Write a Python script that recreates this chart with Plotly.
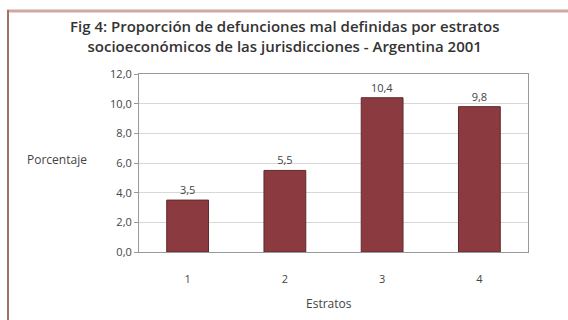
import plotly.graph_objects as go

categories = ["1", "2", "3", "4"]
values = [3.5, 5.5, 10.4, 9.8]
y_ticks = [0, 2, 4, 6, 8, 10, 12]
title_lines = ["Fig 4: Proporción de defunciones mal definidas por estratos",
               "socioeconómicos de las jurisdicciones - Argentina 2001"]

FONT = "Open Sans"
fig = go.Figure()
fig.add_trace(go.Bar(
    x=categories, y=values,
    marker=dict(color="#8b3a40", line=dict(color="#5e2a2c", width=1)),
    width=0.43,
    texttemplate="%{y:.1f}", textposition="outside",
    textfont=dict(family=FONT, size=11, color="#444"),
    cliponaxis=False,
))

L, R, T, B = 139, 40, 74, 68
W, H = 568, 320
pw, ph = W - L - R, H - T - B
def px(x): return (x - L) / pw
def py(y): return 1 - (y - T) / ph

fig.update_layout(
    width=W, height=H,
    margin=dict(l=L, r=R, t=T, b=B),
    paper_bgcolor="white", plot_bgcolor="white",
    separators=",.",
    showlegend=False,
    font=dict(family=FONT, size=11, color="#444"),
    xaxis=dict(showline=True, linecolor="#999", linewidth=1, mirror=True,
               ticks="", ticklabelstandoff=17, tickfont=dict(size=11, color="#444")),
    yaxis=dict(range=[0, 12], tickvals=y_ticks, tickformat=".1f",
               showline=True, linecolor="#999", linewidth=1, mirror=True,
               showgrid=True, gridcolor="#d8d8d8", gridwidth=1,
               ticks="outside", ticklen=4, tickcolor="#999",
               tickfont=dict(size=11, color="#444")),
    annotations=[
        dict(text=title_lines[0] + "<br>" + title_lines[1],
             xref="paper", yref="paper", x=px(284), y=py(36),
             xanchor="center", yanchor="middle", showarrow=False,
             font=dict(family=FONT, size=15, color="#333", weight=600)),
        dict(text="Porcentaje", xref="paper", yref="paper", x=px(57), y=py(159),
             xanchor="center", yanchor="middle", showarrow=False,
             font=dict(family=FONT, size=12, color="#444")),
        dict(text="Estratos", xref="paper", yref="paper", x=px(329), y=py(303),
             xanchor="center", yanchor="middle", showarrow=False,
             font=dict(family=FONT, size=12, color="#444")),
    ],
    shapes=[
        dict(type="line", xref="paper", yref="paper", x0=px(7), x1=px(568),
             y0=py(11), y1=py(11), line=dict(color="#d0a8a4", width=3)),
        dict(type="line", xref="paper", yref="paper", x0=px(8), x1=px(8),
             y0=py(10), y1=py(320), line=dict(color="#a86e68", width=2)),
    ],
)

fig.write_html("out.html")
